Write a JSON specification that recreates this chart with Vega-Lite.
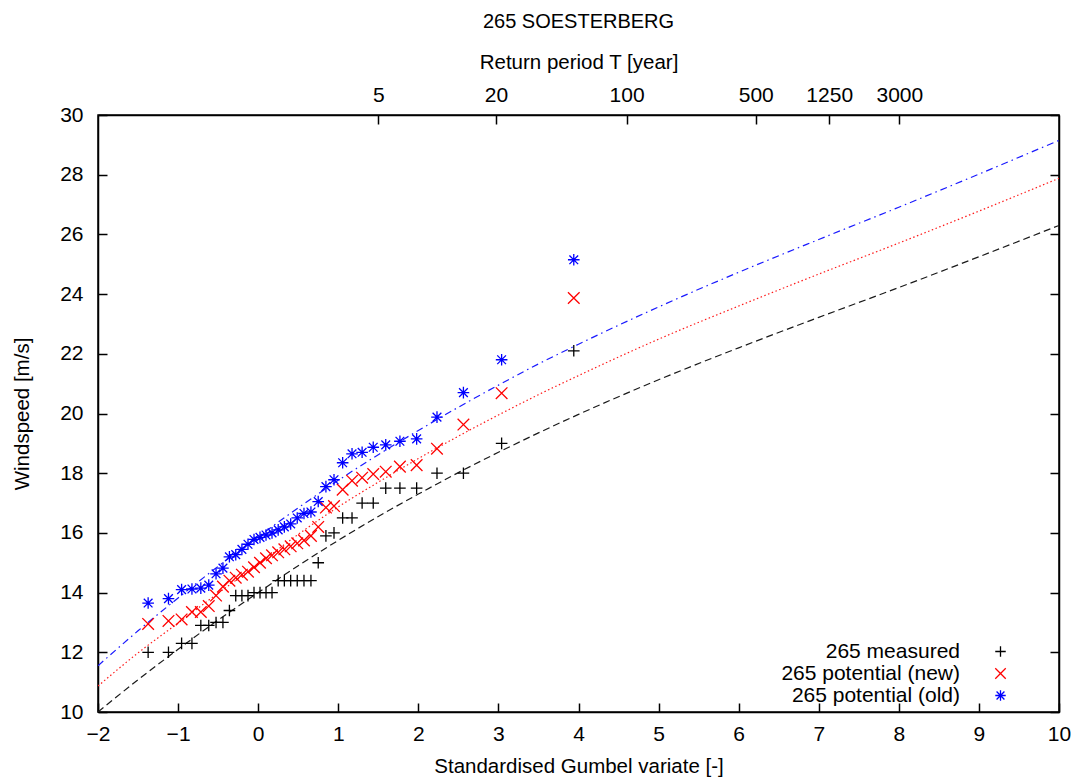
{
  "$schema": "https://vega.github.io/schema/vega-lite/v6.json",
  "width": 961,
  "height": 597,
  "autosize": {"type": "none"},
  "padding": {"left": 98, "top": 115, "right": 19, "bottom": 66},
  "background": "white",
  "title": {"text": "265 SOESTERBERG", "font": "Liberation Sans", "fontSize": 20, "fontWeight": "normal", "color": "black", "anchor": "middle", "offset": 20},
  "config": {
    "view": {"stroke": "black", "strokeWidth": 1.5},
    "axis": {"grid": false, "domainColor": "black", "domainWidth": 1.5, "tickColor": "black", "tickWidth": 1.5, "tickSize": -9, "labelFont": "Liberation Sans", "labelFontSize": 21, "labelColor": "black", "titleFont": "Liberation Sans", "titleFontSize": 20.5, "titleFontWeight": "normal", "titleColor": "black", "labelOverlap": false, "labelFlush": false},
    "legend": {"labelFont": "Liberation Sans", "labelFontSize": 21, "labelColor": "black"}
  },
  "datasets": {
    "fit": [
      {"f": "measured", "x": -2, "y": 10.0}, {"f": "measured", "x": -1.5, "y": 11.08}, {"f": "measured", "x": -1, "y": 12.1}, {"f": "measured", "x": -0.5, "y": 13.08}, {"f": "measured", "x": 0, "y": 14.0}, {"f": "measured", "x": 0.5, "y": 14.9}, {"f": "measured", "x": 1, "y": 15.75}, {"f": "measured", "x": 1.5, "y": 16.55}, {"f": "measured", "x": 2, "y": 17.3}, {"f": "measured", "x": 2.5, "y": 18.02}, {"f": "measured", "x": 3, "y": 18.7}, {"f": "measured", "x": 3.5, "y": 19.35}, {"f": "measured", "x": 4, "y": 19.97}, {"f": "measured", "x": 5, "y": 21.13}, {"f": "measured", "x": 6, "y": 22.2}, {"f": "measured", "x": 7, "y": 23.22}, {"f": "measured", "x": 8, "y": 24.22}, {"f": "measured", "x": 9, "y": 25.25}, {"f": "measured", "x": 10, "y": 26.3},
      {"f": "new", "x": -2, "y": 10.87}, {"f": "new", "x": -1.5, "y": 11.98}, {"f": "new", "x": -1, "y": 12.98}, {"f": "new", "x": -0.5, "y": 13.98}, {"f": "new", "x": 0, "y": 14.95}, {"f": "new", "x": 0.5, "y": 15.95}, {"f": "new", "x": 1, "y": 16.87}, {"f": "new", "x": 1.5, "y": 17.7}, {"f": "new", "x": 2, "y": 18.49}, {"f": "new", "x": 2.5, "y": 19.24}, {"f": "new", "x": 3, "y": 19.95}, {"f": "new", "x": 3.5, "y": 20.63}, {"f": "new", "x": 4, "y": 21.27}, {"f": "new", "x": 5, "y": 22.49}, {"f": "new", "x": 6, "y": 23.6}, {"f": "new", "x": 7, "y": 24.67}, {"f": "new", "x": 8, "y": 25.71}, {"f": "new", "x": 9, "y": 26.78}, {"f": "new", "x": 10, "y": 27.88},
      {"f": "old", "x": -2, "y": 11.55}, {"f": "old", "x": -1.5, "y": 12.72}, {"f": "old", "x": -1, "y": 13.82}, {"f": "old", "x": -0.5, "y": 14.88}, {"f": "old", "x": 0, "y": 15.87}, {"f": "old", "x": 0.5, "y": 16.84}, {"f": "old", "x": 1, "y": 17.76}, {"f": "old", "x": 1.5, "y": 18.62}, {"f": "old", "x": 2, "y": 19.43}, {"f": "old", "x": 2.5, "y": 20.21}, {"f": "old", "x": 3, "y": 20.95}, {"f": "old", "x": 3.5, "y": 21.66}, {"f": "old", "x": 4, "y": 22.32}, {"f": "old", "x": 5, "y": 23.57}, {"f": "old", "x": 6, "y": 24.73}, {"f": "old", "x": 7, "y": 25.83}, {"f": "old", "x": 8, "y": 26.91}, {"f": "old", "x": 9, "y": 28.02}, {"f": "old", "x": 10, "y": 29.15}
    ],
    "pts": [
      {"s": "265 measured", "x": -1.374, "y": 12.0}, {"s": "265 measured", "x": -1.12, "y": 12.0}, {"s": "265 measured", "x": -0.956, "y": 12.3}, {"s": "265 measured", "x": -0.827, "y": 12.3}, {"s": "265 measured", "x": -0.716, "y": 12.9}, {"s": "265 measured", "x": -0.617, "y": 12.9}, {"s": "265 measured", "x": -0.526, "y": 13.0}, {"s": "265 measured", "x": -0.44, "y": 13.0}, {"s": "265 measured", "x": -0.359, "y": 13.4}, {"s": "265 measured", "x": -0.28, "y": 13.9}, {"s": "265 measured", "x": -0.203, "y": 13.9}, {"s": "265 measured", "x": -0.127, "y": 13.9}, {"s": "265 measured", "x": -0.052, "y": 14.0}, {"s": "265 measured", "x": 0.023, "y": 14.0}, {"s": "265 measured", "x": 0.098, "y": 14.0}, {"s": "265 measured", "x": 0.173, "y": 14.0}, {"s": "265 measured", "x": 0.25, "y": 14.4}, {"s": "265 measured", "x": 0.327, "y": 14.4}, {"s": "265 measured", "x": 0.406, "y": 14.4}, {"s": "265 measured", "x": 0.488, "y": 14.4}, {"s": "265 measured", "x": 0.572, "y": 14.4}, {"s": "265 measured", "x": 0.659, "y": 14.4}, {"s": "265 measured", "x": 0.75, "y": 15.0}, {"s": "265 measured", "x": 0.846, "y": 15.9}, {"s": "265 measured", "x": 0.947, "y": 16.0}, {"s": "265 measured", "x": 1.055, "y": 16.5}, {"s": "265 measured", "x": 1.172, "y": 16.5}, {"s": "265 measured", "x": 1.298, "y": 17.0}, {"s": "265 measured", "x": 1.437, "y": 17.0}, {"s": "265 measured", "x": 1.593, "y": 17.5}, {"s": "265 measured", "x": 1.77, "y": 17.5}, {"s": "265 measured", "x": 1.979, "y": 17.5}, {"s": "265 measured", "x": 2.233, "y": 18.0}, {"s": "265 measured", "x": 2.563, "y": 18.0}, {"s": "265 measured", "x": 3.04, "y": 19.0}, {"s": "265 measured", "x": 3.941, "y": 22.1},
      {"s": "265 potential (new)", "x": -1.374, "y": 12.95}, {"s": "265 potential (new)", "x": -1.12, "y": 13.05}, {"s": "265 potential (new)", "x": -0.956, "y": 13.1}, {"s": "265 potential (new)", "x": -0.827, "y": 13.35}, {"s": "265 potential (new)", "x": -0.716, "y": 13.35}, {"s": "265 potential (new)", "x": -0.617, "y": 13.55}, {"s": "265 potential (new)", "x": -0.526, "y": 13.9}, {"s": "265 potential (new)", "x": -0.44, "y": 14.2}, {"s": "265 potential (new)", "x": -0.359, "y": 14.4}, {"s": "265 potential (new)", "x": -0.28, "y": 14.5}, {"s": "265 potential (new)", "x": -0.203, "y": 14.6}, {"s": "265 potential (new)", "x": -0.127, "y": 14.7}, {"s": "265 potential (new)", "x": -0.052, "y": 14.85}, {"s": "265 potential (new)", "x": 0.023, "y": 15.0}, {"s": "265 potential (new)", "x": 0.098, "y": 15.15}, {"s": "265 potential (new)", "x": 0.173, "y": 15.25}, {"s": "265 potential (new)", "x": 0.25, "y": 15.35}, {"s": "265 potential (new)", "x": 0.327, "y": 15.45}, {"s": "265 potential (new)", "x": 0.406, "y": 15.55}, {"s": "265 potential (new)", "x": 0.488, "y": 15.65}, {"s": "265 potential (new)", "x": 0.572, "y": 15.75}, {"s": "265 potential (new)", "x": 0.659, "y": 15.9}, {"s": "265 potential (new)", "x": 0.75, "y": 16.2}, {"s": "265 potential (new)", "x": 0.846, "y": 16.85}, {"s": "265 potential (new)", "x": 0.947, "y": 16.9}, {"s": "265 potential (new)", "x": 1.055, "y": 17.45}, {"s": "265 potential (new)", "x": 1.172, "y": 17.75}, {"s": "265 potential (new)", "x": 1.298, "y": 17.85}, {"s": "265 potential (new)", "x": 1.437, "y": 17.97}, {"s": "265 potential (new)", "x": 1.593, "y": 18.05}, {"s": "265 potential (new)", "x": 1.77, "y": 18.22}, {"s": "265 potential (new)", "x": 1.979, "y": 18.27}, {"s": "265 potential (new)", "x": 2.233, "y": 18.82}, {"s": "265 potential (new)", "x": 2.563, "y": 19.63}, {"s": "265 potential (new)", "x": 3.04, "y": 20.68}, {"s": "265 potential (new)", "x": 3.941, "y": 23.87},
      {"s": "265 potential (old)", "x": -1.374, "y": 13.65}, {"s": "265 potential (old)", "x": -1.12, "y": 13.8}, {"s": "265 potential (old)", "x": -0.956, "y": 14.1}, {"s": "265 potential (old)", "x": -0.827, "y": 14.12}, {"s": "265 potential (old)", "x": -0.716, "y": 14.15}, {"s": "265 potential (old)", "x": -0.617, "y": 14.25}, {"s": "265 potential (old)", "x": -0.526, "y": 14.63}, {"s": "265 potential (old)", "x": -0.44, "y": 14.82}, {"s": "265 potential (old)", "x": -0.359, "y": 15.2}, {"s": "265 potential (old)", "x": -0.28, "y": 15.27}, {"s": "265 potential (old)", "x": -0.203, "y": 15.45}, {"s": "265 potential (old)", "x": -0.127, "y": 15.62}, {"s": "265 potential (old)", "x": -0.052, "y": 15.78}, {"s": "265 potential (old)", "x": 0.023, "y": 15.85}, {"s": "265 potential (old)", "x": 0.098, "y": 15.93}, {"s": "265 potential (old)", "x": 0.173, "y": 16.0}, {"s": "265 potential (old)", "x": 0.25, "y": 16.1}, {"s": "265 potential (old)", "x": 0.327, "y": 16.2}, {"s": "265 potential (old)", "x": 0.406, "y": 16.3}, {"s": "265 potential (old)", "x": 0.488, "y": 16.5}, {"s": "265 potential (old)", "x": 0.572, "y": 16.65}, {"s": "265 potential (old)", "x": 0.659, "y": 16.7}, {"s": "265 potential (old)", "x": 0.75, "y": 17.05}, {"s": "265 potential (old)", "x": 0.846, "y": 17.55}, {"s": "265 potential (old)", "x": 0.947, "y": 17.78}, {"s": "265 potential (old)", "x": 1.055, "y": 18.35}, {"s": "265 potential (old)", "x": 1.172, "y": 18.65}, {"s": "265 potential (old)", "x": 1.298, "y": 18.7}, {"s": "265 potential (old)", "x": 1.437, "y": 18.87}, {"s": "265 potential (old)", "x": 1.593, "y": 18.95}, {"s": "265 potential (old)", "x": 1.77, "y": 19.07}, {"s": "265 potential (old)", "x": 1.979, "y": 19.15}, {"s": "265 potential (old)", "x": 2.233, "y": 19.88}, {"s": "265 potential (old)", "x": 2.563, "y": 20.7}, {"s": "265 potential (old)", "x": 3.04, "y": 21.8}, {"s": "265 potential (old)", "x": 3.941, "y": 25.15}
    ]
  },
  "layer": [
    {
      "data": {"name": "fit"},
      "mark": {"type": "line", "strokeWidth": 1.2, "interpolate": "monotone", "clip": true},
      "encoding": {
        "x": {"field": "x", "type": "quantitative", "scale": {"domain": [-2, 10], "nice": false, "zero": false}, "axis": {"orient": "bottom", "title": "Standardised Gumbel variate [-]", "values": [-2, -1, 0, 1, 2, 3, 4, 5, 6, 7, 8, 9, 10], "labelPadding": 20, "titlePadding": 12}},
        "y": {"field": "y", "type": "quantitative", "scale": {"domain": [10, 30], "nice": false, "zero": false}, "axis": {"orient": "left", "title": "Windspeed [m/s]", "values": [10, 12, 14, 16, 18, 20, 22, 24, 26, 28, 30], "labelPadding": 24, "titlePadding": 27}},
        "stroke": {"field": "f", "type": "nominal", "scale": {"domain": ["measured", "new", "old"], "range": ["#1a1a1a", "#ff1a1a", "#1a1aff"]}, "legend": null},
        "strokeDash": {"field": "f", "type": "nominal", "scale": {"domain": ["measured", "new", "old"], "range": [[7, 4], [1.5, 2.5], [7, 4, 1.5, 4]]}, "legend": null}
      }
    },
    {
      "data": {"name": "pts"},
      "mark": {"type": "point", "filled": false, "strokeWidth": 1.3, "opacity": 1},
      "encoding": {
        "x": {"field": "x", "type": "quantitative", "scale": {"domain": [-2, 10], "nice": false, "zero": false}, "axis": null},
        "y": {"field": "y", "type": "quantitative", "scale": {"domain": [10, 30], "nice": false, "zero": false}, "axis": null},
        "color": {"field": "s", "type": "nominal", "title": null, "scale": {"domain": ["265 measured", "265 potential (new)", "265 potential (old)"], "range": ["#000000", "#ff0000", "#0000ff"]}, "legend": {"orient": "none", "legendX": 892, "legendY": 526, "padding": 0, "symbolSize": 110, "symbolStrokeWidth": 1.3, "labelAlign": "right", "labelOffset": -51, "rowPadding": 0, "labelLimit": 400}},
        "shape": {"field": "s", "type": "nominal", "title": null, "scale": {"domain": ["265 measured", "265 potential (new)", "265 potential (old)"], "range": ["M-1,0L1,0M0,-1L0,1", "M-1,-1L1,1M-1,1L1,-1", "M-1,0L1,0M0,-1L0,1M-0.75,-0.75L0.75,0.75M-0.75,0.75L0.75,-0.75"]}, "legend": {"orient": "none", "legendX": 892, "legendY": 526, "padding": 0, "symbolSize": 110, "symbolStrokeWidth": 1.3, "labelAlign": "right", "labelOffset": -51, "rowPadding": 0, "labelLimit": 400}},
        "size": {"value": 135}
      }
    },
    {
      "data": {"name": "fit"},
      "mark": {"type": "point", "opacity": 0},
      "encoding": {
        "x": {"field": "x", "type": "quantitative", "scale": {"domain": [-2, 10], "nice": false, "zero": false}, "axis": {"orient": "top", "title": "Return period T [year]", "values": [1.4999, 2.9702, 4.6001, 6.2136, 7.1305, 8.0062], "labelExpr": "datum.value < 2 ? '5' : datum.value < 4 ? '20' : datum.value < 5 ? '100' : datum.value < 6.5 ? '500' : datum.value < 7.5 ? '1250' : '3000'", "labelPadding": 19, "titlePadding": 12}},
        "y": {"field": "y", "type": "quantitative", "scale": {"domain": [10, 30], "nice": false, "zero": false}, "axis": {"orient": "right", "title": null, "labels": false, "values": [10, 12, 14, 16, 18, 20, 22, 24, 26, 28, 30]}}
      }
    }
  ],
  "resolve": {"axis": {"x": "independent", "y": "independent"}}
}
